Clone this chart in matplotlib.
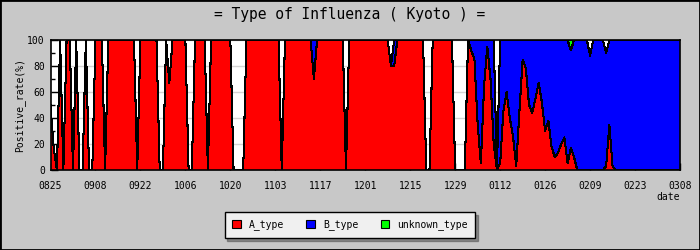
import numpy as np
import pandas as pd
import matplotlib
matplotlib.use('Agg')
import matplotlib.pyplot as plt
from matplotlib.patches import Patch, Rectangle

# daily positive rate (%) from 0825 to 0308
start_date = '2011-08-25'

a_type = [50, 17, 0, 100, 0, 100, 100, 0, 100, 0,
          0, 100, 0, 0, 100, 100, 100, 0, 100, 100,
          100, 100, 100, 100, 100, 100, 100, 0, 100, 100,
          100, 100, 100, 100, 0, 0, 100, 67, 100, 100,
          100, 100, 100, 0, 0, 100, 100, 100, 100, 0,
          100, 100, 100, 100, 100, 100, 100, 0, 0, 0,
          0, 100, 100, 100, 100, 100, 100, 100, 100, 100,
          100, 100, 0, 100, 100, 100, 100, 100, 100, 100,
          100, 100, 70, 100, 100, 100, 100, 100, 100, 100,
          100, 100, 0, 100, 100, 100, 100, 100, 100, 100,
          100, 100, 100, 100, 100, 100, 80, 80, 100, 100,
          100, 100, 100, 100, 100, 100, 100, 0, 0, 100,
          100, 100, 100, 100, 100, 100, 0, 0, 0, 0,
          100, 92, 85, 35, 5, 65, 95, 70, 20, 0,
          5, 45, 60, 40, 26, 3, 45, 85, 78, 50,
          44, 55, 67, 52, 30, 38, 18, 10, 13, 20,
          25, 5, 17, 10, 0, 0, 0, 0, 0, 0,
          0, 0, 0, 3, 35, 3, 0, 0, 0, 0,
          0, 0, 0, 0, 0, 0, 0, 0, 0, 0,
          0, 0, 0, 0, 0, 0, 0]

b_type = ([0] * 82 + [30] + [0] * 24 + [20] + [0] * 22 +
          [0, 8, 15, 65, 95, 35, 5, 30, 80, 0,
           95, 55, 40, 60, 74, 97, 55, 15, 22, 50,
           56, 45, 33, 48, 70, 62, 82, 90, 87, 80,
           75, 95, 75, 90, 100, 100, 100, 100, 88, 100,
           100, 100, 100, 87, 65, 97, 100, 100, 100, 100] +
          [100] * 17)

unknown_type = [0] * 162 + [8] + [0] * 34

series_names = ['A_type', 'B_type', 'unknown_type']
series_colors = ['#ff0000', '#0000ff', '#00ff00']


def main():
    plt.rcParams['font.family'] = ['DejaVu Sans Mono']

    a = np.array(a_type, dtype=float)
    b = np.array(b_type, dtype=float)
    u = np.array(unknown_type, dtype=float)
    days = np.arange(len(a))
    dates = pd.date_range(start_date, periods=len(a))

    fig = plt.figure(figsize=(7, 2.5), dpi=100, facecolor='#c8c8c8')
    ax = fig.add_axes([50.5 / 700, 80 / 250, 629.5 / 700, 130 / 250])
    ax.set_facecolor('white')

    # stacked areas
    ab = a + b
    abu = ab + u
    ax.fill_between(days, 0, a, facecolor=series_colors[0], lw=0, antialiased=False, zorder=2)
    ax.fill_between(days, a, ab, facecolor=series_colors[1], lw=0, antialiased=False, zorder=2)
    ax.fill_between(days, ab, abu, facecolor=series_colors[2], lw=0, antialiased=False, zorder=2)
    for top in (a, ab, abu):
        ax.plot(days, top, color='black', lw=0.75, antialiased=False, zorder=3)

    ax.set_xlim(0, len(a) - 1)
    ax.set_ylim(0, 100)

    ticks = days[::14]
    ax.set_xticks(ticks)
    ax.set_xticklabels([d.strftime('%m%d') for d in dates[::14]], fontsize=7)
    ax.set_yticks(np.arange(0, 101, 20))
    ax.set_yticks(np.arange(0, 101, 10), minor=True)
    ax.tick_params(axis='x', direction='in', length=5, width=1, pad=8, labelsize=7)
    ax.tick_params(axis='y', which='major', direction='in', length=5, width=1, pad=4, labelsize=7)
    ax.tick_params(axis='y', which='minor', direction='in', length=3, width=1)
    ax.yaxis.grid(True, color='#d4d4d4', lw=1)
    ax.set_axisbelow(True)
    for sp in ax.spines.values():
        sp.set_linewidth(1.2)
        sp.set_zorder(5)

    fig.text(350 / 700, 1 - 14 / 250, '= Type of Influenza ( Kyoto ) =',
             ha='center', va='center', fontsize=10.5)
    fig.text(20 / 700, 1 - 105 / 250, 'Positive_rate(%)', rotation=90,
             ha='center', va='center', fontsize=7)
    fig.text(680 / 700, 1 - 197 / 250, 'date', ha='right', va='center', fontsize=7)

    handles = [Patch(facecolor=c, edgecolor='black', lw=0.8) for c in series_colors]
    leg = fig.legend(handles, series_names, loc='center',
                     bbox_to_anchor=(350 / 700, 1 - 225 / 250), ncol=3,
                     frameon=True, fancybox=False, shadow=True, framealpha=1,
                     edgecolor='black', facecolor='#f0f0f0', fontsize=7,
                     handlelength=0.9, handleheight=0.9, handletextpad=0.8,
                     columnspacing=2.3, borderpad=0.8)
    leg.get_frame().set_linewidth(1.0)

    fig.patches.append(Rectangle((0, 0), 1, 1, transform=fig.transFigure,
                                 fill=False, edgecolor='black', lw=2))

    fig.savefig('out.png', dpi=100, facecolor=fig.get_facecolor())


if __name__ == '__main__':
    main()
